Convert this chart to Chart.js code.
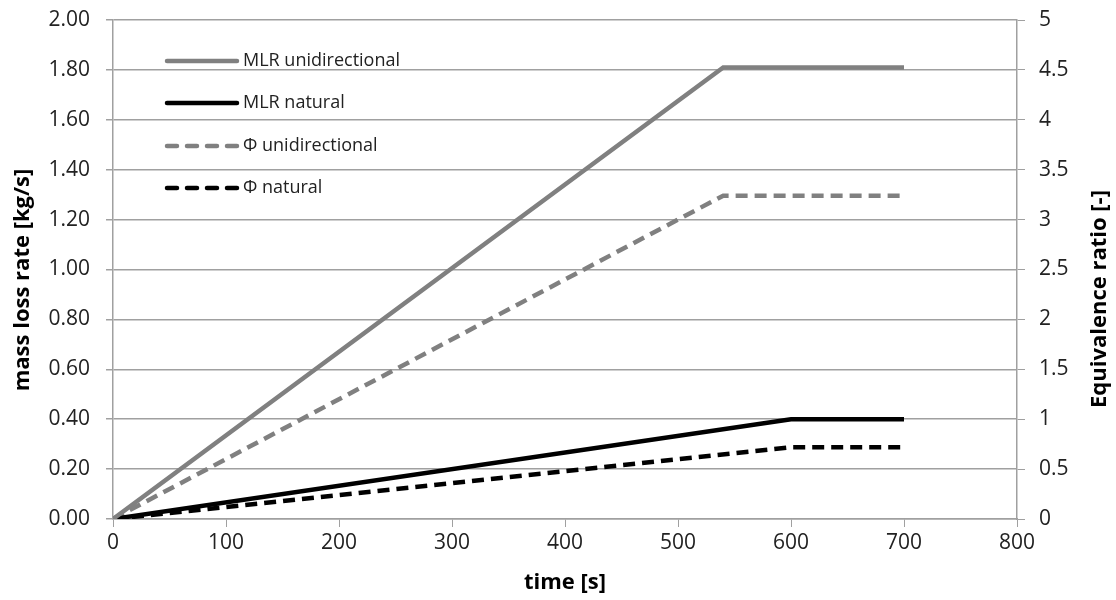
<!DOCTYPE html>
<html>
<head>
<meta charset="utf-8">
<script src="https://cdn.jsdelivr.net/npm/chart.js@4.4.1/dist/chart.umd.min.js"></script>
<style>
html,body{margin:0;padding:0;background:#fff;}
canvas{display:block;}
</style>
</head>
<body>
<canvas id="c" width="1116" height="600"></canvas>
<script>
// ---- data ----
const timeUni = [0, 540, 700];
const timeNat = [0, 600, 700];
const mlrUnidirectional = [0, 1.81, 1.81];
const mlrNatural = [0, 0.40, 0.40];
const phiUnidirectional = [0, 3.24, 3.24];
const phiNatural = [0, 0.72, 0.72];
const seriesLabels = ['MLR unidirectional', 'MLR natural', '\u03A6 unidirectional', '\u03A6 natural'];
const xAxisTitle = 'time [s]';
const yAxisTitle = 'mass loss rate [kg/s]';
const y1AxisTitle = 'Equivalence ratio [-]';

const pts = (xs, ys) => xs.map((x, i) => ({x: x, y: ys[i]}));

const GRAY = '#808080';
const BLACK = '#000000';
const AXIS = '#a0a0a0';
const FONT = "'Open Sans', 'Noto Sans', sans-serif";
const TXT = '#222222';

const legendPlugin = {
  id: 'customLegend',
  afterDatasetsDraw(chart) {
    const ctx = chart.ctx;
    const x0 = 167, x1 = 237, tx = 243;
    const rows = [61, 103, 146, 188];
    chart.data.datasets.forEach((ds, i) => {
      const y = rows[i];
      ctx.save();
      ctx.strokeStyle = ds.borderColor;
      ctx.lineWidth = ds.borderWidth;
      ctx.lineCap = 'round';
      if (ds.borderDash && ds.borderDash.length) {
        ctx.setLineDash([10, 10]);
      }
      ctx.beginPath();
      ctx.moveTo(x0, y);
      ctx.lineTo(x1, y);
      ctx.stroke();
      ctx.setLineDash([]);
      ctx.fillStyle = TXT;
      ctx.font = "18px " + FONT;
      ctx.textBaseline = 'middle';
      ctx.textAlign = 'left';
      ctx.fillText(ds.label, tx, y);
      ctx.restore();
    });
  }
};

const titlePlugin = {
  id: 'axisTitles',
  afterDraw(chart) {
    const ctx = chart.ctx;
    const ca = chart.chartArea;
    ctx.save();
    ctx.fillStyle = BLACK;
    ctx.font = "bold 22px " + FONT;
    ctx.textAlign = 'center';
    ctx.textBaseline = 'middle';
    ctx.fillText(xAxisTitle, (ca.left + ca.right) / 2, 583);
    ctx.save();
    ctx.translate(23, 280);
    ctx.rotate(-Math.PI / 2);
    ctx.fillText(yAxisTitle, 0, 0);
    ctx.restore();
    ctx.save();
    ctx.translate(1100, 299);
    ctx.rotate(-Math.PI / 2);
    ctx.fillText(y1AxisTitle, 0, 0);
    ctx.restore();
    ctx.restore();
  }
};

const fixV = w => s => { s.width = w; s.paddingTop = 0; s.paddingBottom = 0; };

new Chart(document.getElementById('c'), {
  type: 'line',
  data: {
    datasets: [
      {label: seriesLabels[0], data: pts(timeUni, mlrUnidirectional), yAxisID: 'y', borderColor: GRAY, borderWidth: 4.5, pointRadius: 0, tension: 0, fill: false},
      {label: seriesLabels[1], data: pts(timeNat, mlrNatural), yAxisID: 'y', borderColor: BLACK, borderWidth: 4.5, pointRadius: 0, tension: 0, fill: false},
      {label: seriesLabels[2], data: pts(timeUni, phiUnidirectional), yAxisID: 'y1', borderColor: GRAY, borderWidth: 4.5, borderDash: [12, 7], pointRadius: 0, tension: 0, fill: false},
      {label: seriesLabels[3], data: pts(timeNat, phiNatural), yAxisID: 'y1', borderColor: BLACK, borderWidth: 4.5, borderDash: [12, 7], pointRadius: 0, tension: 0, fill: false}
    ]
  },
  options: {
    responsive: false,
    animation: false,
    devicePixelRatio: 1,
    layout: {padding: {top: 20, left: 0, right: 0, bottom: 0}},
    plugins: {legend: {display: false}, tooltip: {enabled: false}},
    scales: {
      x: {
        type: 'linear', min: 0, max: 800,
        ticks: {stepSize: 100, color: TXT, font: {family: FONT, size: 21}, padding: 3},
        grid: {drawOnChartArea: false, drawTicks: true, tickLength: 8, color: AXIS},
        border: {color: AXIS, width: 1.5},
        afterFit: s => { s.height = 81; s.paddingLeft = 0; s.paddingRight = 0; }
      },
      y: {
        type: 'linear', position: 'left', min: 0, max: 2,
        ticks: {stepSize: 0.2, color: TXT, font: {family: FONT, size: 21}, padding: 16, callback: v => Number(v).toFixed(2)},
        grid: {drawOnChartArea: true, drawTicks: true, tickLength: 7, color: AXIS, lineWidth: 1.5},
        border: {color: AXIS, width: 1.5},
        afterFit: fixV(113)
      },
      y1: {
        type: 'linear', position: 'right', min: 0, max: 5,
        ticks: {stepSize: 0.5, color: TXT, font: {family: FONT, size: 21}, padding: 14, callback: v => String(Math.round(v * 10) / 10)},
        grid: {drawOnChartArea: false, drawTicks: true, tickLength: 8, color: AXIS},
        border: {color: AXIS, width: 1.5},
        afterFit: fixV(99)
      }
    }
  },
  plugins: [legendPlugin, titlePlugin]
});
</script>
</body>
</html>
